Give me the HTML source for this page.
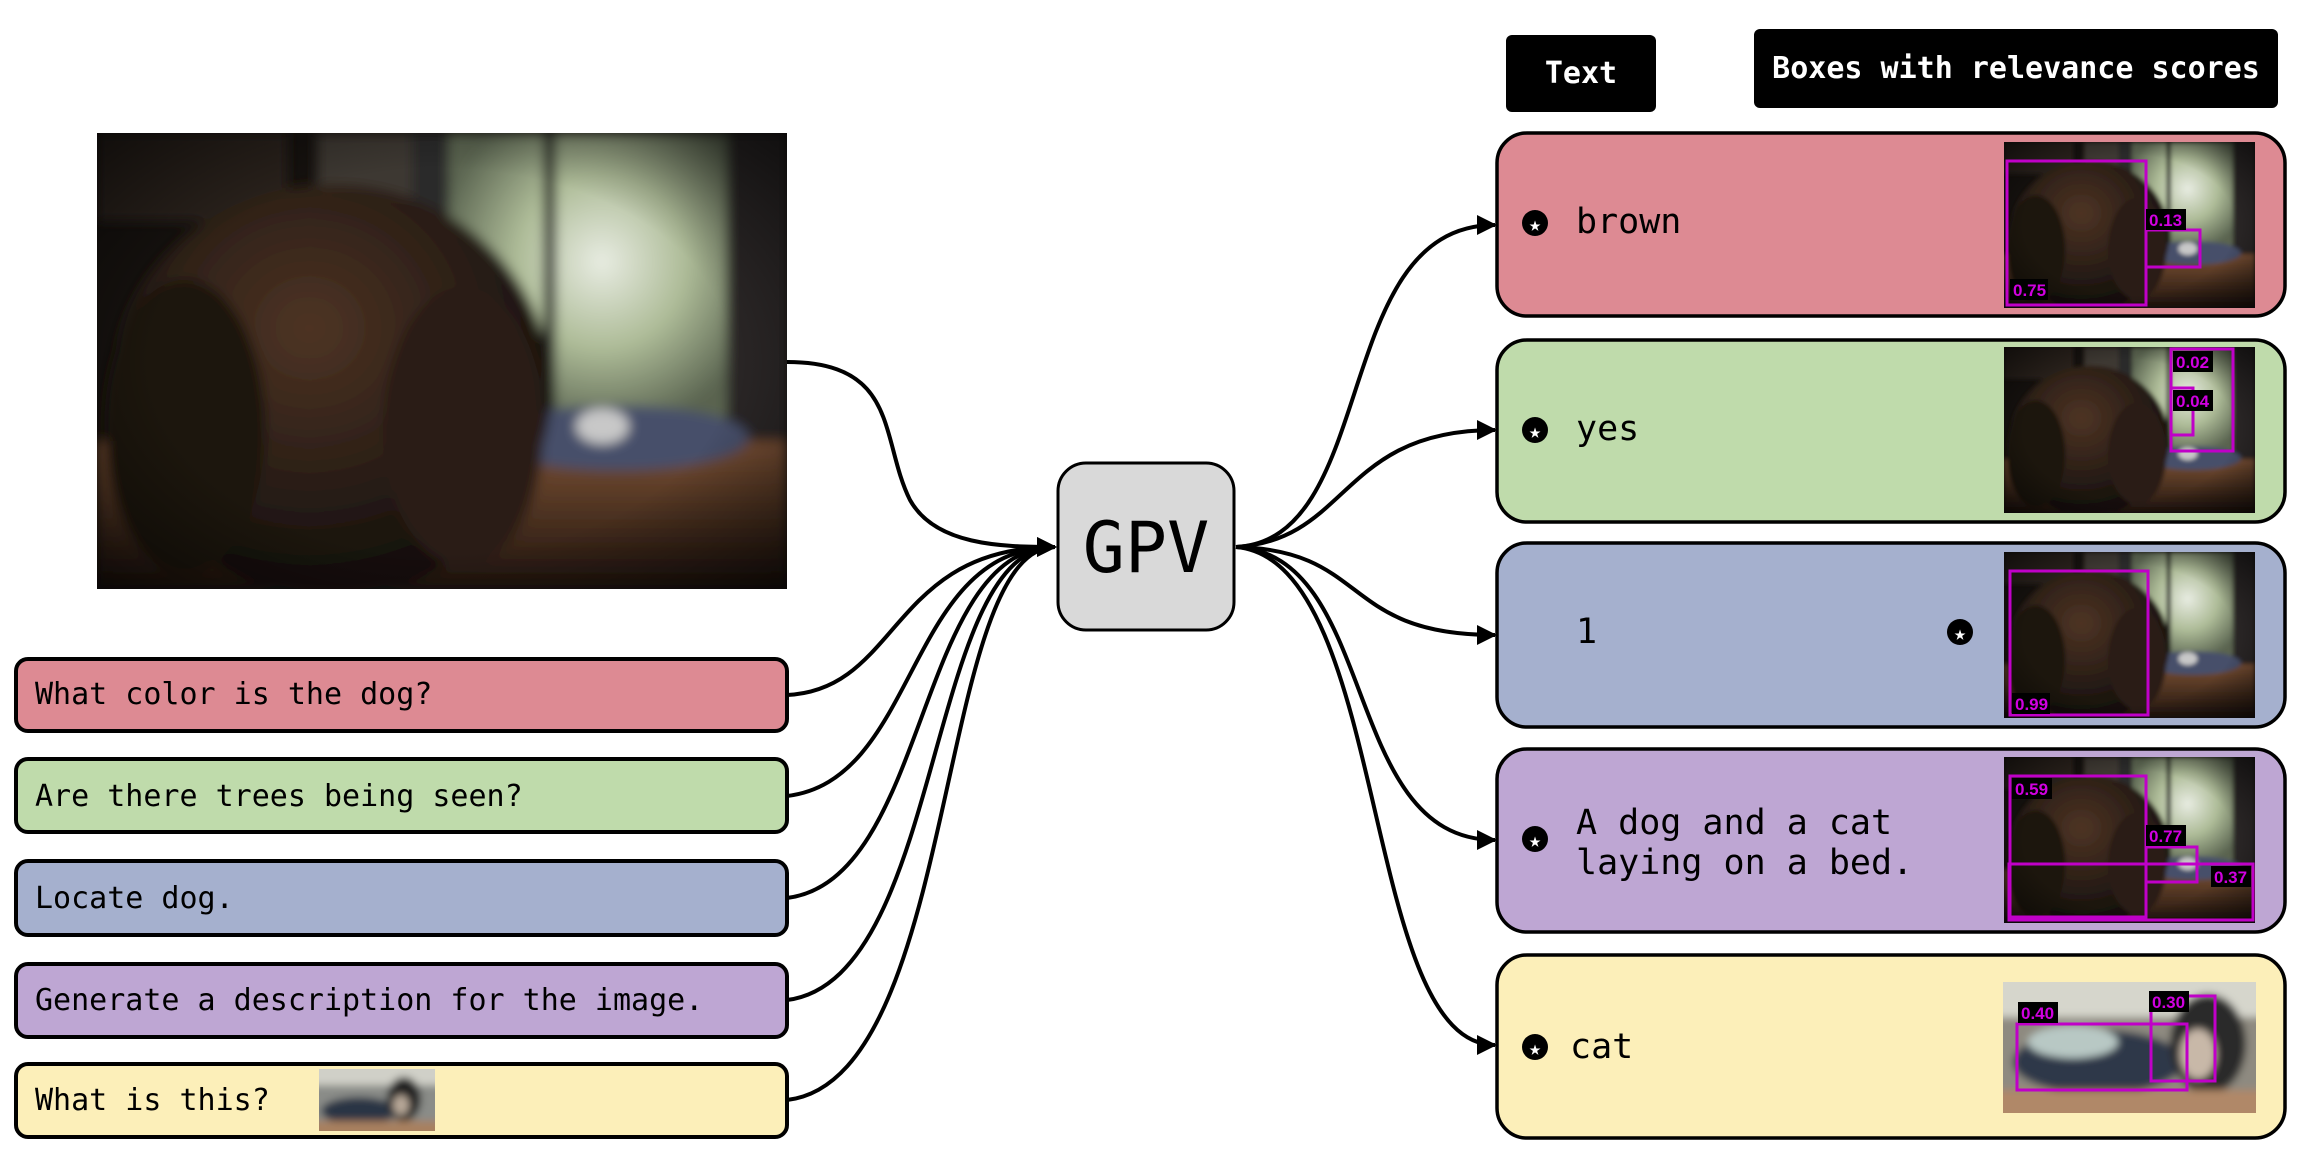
<!DOCTYPE html>
<html><head><meta charset="utf-8"><style>
html,body{margin:0;padding:0;background:#fff;}
svg{display:block;}
.m{font-family:"DejaVu Sans Mono","Liberation Mono",monospace;}
.s{font-family:"Liberation Sans",sans-serif;font-weight:bold;}
</style></head><body>
<svg width="2297" height="1165" viewBox="0 0 2297 1165" xmlns="http://www.w3.org/2000/svg">
<defs>
<marker id="ah" viewBox="0 0 10 10" refX="9" refY="5" markerWidth="5" markerHeight="5" orient="auto" markerUnits="strokeWidth">
<path d="M0,0 L10,5 L0,10 z" fill="#000"/></marker>
<radialGradient id="win" cx="0.55" cy="0.45" r="0.6"><stop offset="0" stop-color="#e8ece2"/><stop offset="0.5" stop-color="#aebc98"/><stop offset="1" stop-color="#5a6450"/></radialGradient>
<radialGradient id="dog" cx="0.45" cy="0.35" r="0.6"><stop offset="0" stop-color="#4e3424"/><stop offset="0.6" stop-color="#2c1f17"/><stop offset="1" stop-color="#15100c"/></radialGradient>
<linearGradient id="bed" x1="0" y1="0" x2="0" y2="1"><stop offset="0" stop-color="#7a5034"/><stop offset="1" stop-color="#1e130d"/></linearGradient>
<radialGradient id="vig" cx="0.5" cy="0.5" r="0.7"><stop offset="0.6" stop-color="#000" stop-opacity="0"/><stop offset="1" stop-color="#000" stop-opacity="0.6"/></radialGradient>
<filter id="bl"><feGaussianBlur stdDeviation="4"/></filter>
<g id="photo">
<rect x="0" y="0" width="471" height="311" fill="#16120f"/>
<g filter="url(#bl)">
<rect x="240" y="0" width="190" height="195" fill="url(#win)"/>
<rect x="305" y="0" width="8" height="195" fill="#222"/>
<rect x="215" y="0" width="25" height="200" fill="#2a2a2a"/>
<rect x="430" y="0" width="41" height="230" fill="#2a2826"/>
<rect x="0" y="0" width="130" height="60" fill="#2a221e"/>
<rect x="150" y="0" width="65" height="180" fill="#3e3832"/>
<rect x="0" y="210" width="471" height="101" fill="url(#bed)"/>
<ellipse cx="355" cy="208" rx="90" ry="22" fill="#46506a"/>
<ellipse cx="345" cy="200" rx="18" ry="12" fill="#c8c8c8"/>
<ellipse cx="160" cy="175" rx="150" ry="140" fill="url(#dog)"/>
<ellipse cx="60" cy="200" rx="55" ry="100" fill="#1e150f"/>
<ellipse cx="250" cy="200" rx="55" ry="95" fill="#2a1e15"/>
</g>
<rect x="0" y="0" width="471" height="311" fill="url(#vig)"/>
</g>
</defs>

<svg x="97" y="133" width="690" height="456" viewBox="0 0 471 311" preserveAspectRatio="none"><use href="#photo"/></svg>

<g stroke="#000" stroke-width="4">
<rect x="16" y="659" width="771" height="72" rx="12" fill="#dd8a93"/>
<rect x="16" y="759" width="771" height="73" rx="12" fill="#bfdbab"/>
<rect x="16" y="861" width="771" height="74" rx="12" fill="#a5b0ce"/>
<rect x="16" y="964" width="771" height="73" rx="12" fill="#bea6d3"/>
<rect x="16" y="1064" width="771" height="73" rx="12" fill="#fcefb9"/>
</g>
<g font-size="30" fill="#000" class="m">
<text class="m" x="35" y="704">What color is the dog?</text>
<text class="m" x="35" y="806">Are there trees being seen?</text>
<text class="m" x="35" y="908">Locate dog.</text>
<text class="m" x="35" y="1010">Generate a description for the image.</text>
<text class="m" x="35" y="1110">What is this?</text>
</g>
<svg x="319" y="1069" width="116" height="62" viewBox="0 0 116 62">
<g filter="url(#bl)">
<rect x="-10" y="-10" width="136" height="82" fill="#8a8c88"/>
<rect x="-10" y="-10" width="136" height="26" fill="#d0d0c8"/>
<ellipse cx="40" cy="42" rx="38" ry="14" fill="#2c3544"/>
<ellipse cx="85" cy="30" rx="17" ry="22" fill="#222"/>
<ellipse cx="82" cy="36" rx="8" ry="10" fill="#b8a898"/>
<rect x="-10" y="52" width="136" height="20" fill="#a8805e"/>
</g></svg>

<rect x="1058" y="463" width="176" height="167" rx="28" fill="#d9d9d9" stroke="#000" stroke-width="3"/>
<text class="m" x="1146" y="572" font-size="70" text-anchor="middle">GPV</text>

<g fill="none" stroke="#000" stroke-width="4">
<path d="M787,362 C900,362 880,440 910,500 C935,545 1000,547 1055,547" marker-end="url(#ah)"/>
<path d="M787,695 C900,690 890,547 1055,547" marker-end="url(#ah)"/>
<path d="M787,796 C920,780 905,547 1055,547"/>
<path d="M787,898 C930,880 915,547 1055,547"/>
<path d="M787,1000 C945,980 925,547 1055,547"/>
<path d="M787,1100 C960,1080 935,547 1055,547"/>
</g>

<rect x="1506" y="35" width="150" height="77" rx="6" fill="#000"/>
<text class="m" x="1581" y="83" font-size="30" fill="#fff" text-anchor="middle" font-weight="bold">Text</text>
<rect x="1754" y="29" width="524" height="79" rx="6" fill="#000"/>
<text class="m" x="2016" y="78" font-size="30" fill="#fff" text-anchor="middle" font-weight="bold">Boxes with relevance scores</text>

<g stroke="#000" stroke-width="3.5">
<rect x="1497" y="133" width="788" height="183" rx="30" fill="#dd8a93"/>
<rect x="1497" y="340" width="788" height="182" rx="30" fill="#bfdbab"/>
<rect x="1497" y="543" width="788" height="184" rx="30" fill="#a5b0ce"/>
<rect x="1497" y="749" width="788" height="183" rx="30" fill="#bea6d3"/>
<rect x="1497" y="955" width="788" height="183" rx="30" fill="#fcefb9"/>
</g>

<g fill="none" stroke="#000" stroke-width="4">
<path d="M1236,547 C1380,540 1330,225 1495,225" marker-end="url(#ah)"/>
<path d="M1236,547 C1350,540 1340,430 1495,430" marker-end="url(#ah)"/>
<path d="M1236,547 C1370,550 1340,635 1495,635" marker-end="url(#ah)"/>
<path d="M1236,547 C1380,555 1340,840 1495,840" marker-end="url(#ah)"/>
<path d="M1236,547 C1390,560 1360,1045 1495,1045" marker-end="url(#ah)"/>
</g>

<g>
<circle cx="1535" cy="223" r="13" fill="#000"/><text class="m" x="1535" y="231" font-size="20" fill="#fff" text-anchor="middle">★</text>
<circle cx="1535" cy="430" r="13" fill="#000"/><text class="m" x="1535" y="438" font-size="20" fill="#fff" text-anchor="middle">★</text>
<circle cx="1960" cy="632" r="13" fill="#000"/><text class="m" x="1960" y="640" font-size="20" fill="#fff" text-anchor="middle">★</text>
<circle cx="1535" cy="839" r="13" fill="#000"/><text class="m" x="1535" y="847" font-size="20" fill="#fff" text-anchor="middle">★</text>
<circle cx="1535" cy="1047" r="13" fill="#000"/><text class="m" x="1535" y="1055" font-size="20" fill="#fff" text-anchor="middle">★</text>
</g>
<g font-size="35" fill="#000">
<text class="m" x="1576" y="233">brown</text>
<text class="m" x="1576" y="440">yes</text>
<text class="m" x="1576" y="643">1</text>
<text class="m" x="1576" y="834">A dog and a cat</text>
<text class="m" x="1576" y="874">laying on a bed.</text>
<text class="m" x="1570" y="1058">cat</text>
</g>

<svg x="2004" y="142" width="251" height="166" viewBox="0 0 471 311" preserveAspectRatio="none"><use href="#photo"/></svg>
<svg x="2004" y="347" width="251" height="166" viewBox="0 0 471 311" preserveAspectRatio="none"><use href="#photo"/></svg>
<svg x="2004" y="552" width="251" height="166" viewBox="0 0 471 311" preserveAspectRatio="none"><use href="#photo"/></svg>
<svg x="2004" y="757" width="251" height="166" viewBox="0 0 471 311" preserveAspectRatio="none"><use href="#photo"/></svg>
<svg x="2003" y="982" width="253" height="131" viewBox="0 0 253 131">
<g filter="url(#bl)">
<rect x="-10" y="-10" width="273" height="151" fill="#8e8a80"/>
<rect x="-10" y="-10" width="273" height="45" fill="#d6d6cc"/>
<ellipse cx="95" cy="80" rx="85" ry="32" fill="#2e3848"/>
<ellipse cx="70" cy="60" rx="45" ry="16" fill="#b8c8c4"/>
<ellipse cx="205" cy="62" rx="38" ry="50" fill="#2a2a2a"/>
<ellipse cx="195" cy="72" rx="18" ry="25" fill="#c8b8a8"/>
<rect x="-10" y="108" width="273" height="33" fill="#b08868"/>
</g></svg>

<g fill="none" stroke="#c000c8" stroke-width="3">
<rect x="2007" y="161" width="139" height="144"/><rect x="2146" y="230" width="54" height="37"/>
<rect x="2171" y="349" width="62" height="102"/><rect x="2171" y="388" width="22" height="47"/>
<rect x="2010" y="571" width="138" height="144"/>
<rect x="2010" y="776" width="136" height="141"/><rect x="2146" y="847" width="51" height="35"/><rect x="2009" y="864" width="244" height="56"/>
<rect x="2017" y="1024" width="170" height="66"/><rect x="2151" y="996" width="64" height="85"/>
</g>
<g fill="#000">
<rect x="2146" y="209" width="40" height="21"/><rect x="2010" y="279" width="38" height="21"/>
<rect x="2173" y="351" width="40" height="21"/><rect x="2173" y="390" width="40" height="21"/>
<rect x="2012" y="693" width="38" height="21"/>
<rect x="2012" y="778" width="40" height="21"/><rect x="2146" y="825" width="40" height="21"/><rect x="2211" y="866" width="40" height="21"/>
<rect x="2018" y="1002" width="40" height="21"/><rect x="2149" y="991" width="40" height="21"/>
</g>
<g font-size="17" fill="#d000e0">
<text class="s" x="2149" y="226">0.13</text>
<text class="s" x="2013" y="296">0.75</text>
<text class="s" x="2176" y="368">0.02</text>
<text class="s" x="2176" y="407">0.04</text>
<text class="s" x="2015" y="710">0.99</text>
<text class="s" x="2015" y="795">0.59</text>
<text class="s" x="2149" y="842">0.77</text>
<text class="s" x="2214" y="883">0.37</text>
<text class="s" x="2021" y="1019">0.40</text>
<text class="s" x="2152" y="1008">0.30</text>
</g>
</svg>
</body></html>
